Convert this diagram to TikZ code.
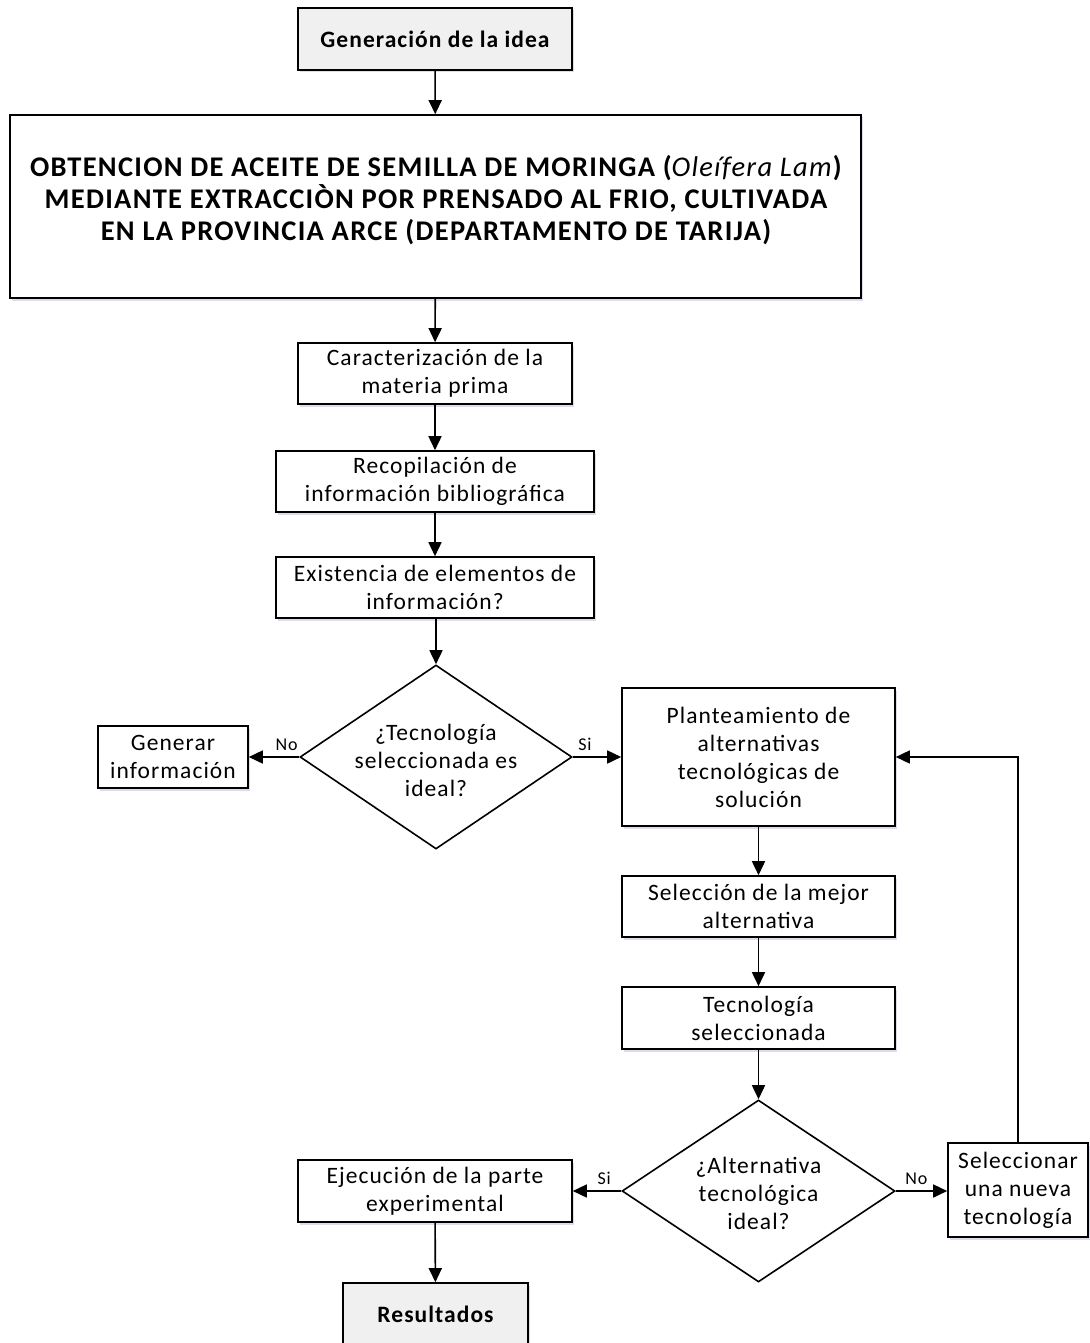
\documentclass[tikz,border=0pt]{standalone}
\usepackage{fontspec}
\setmainfont{Carlito}[LetterSpace=4.5]
\usetikzlibrary{shapes.geometric,arrows.meta,shadows}

\tikzset{
  soft shadow/.style={drop shadow={shadow xshift=1.5pt, shadow yshift=-2.5pt,
      fill=blue!25!gray, opacity=0.22}},
  box/.style={draw=black, line width=1.6pt, fill=white, inner sep=2pt, align=center,
    soft shadow, font=\fontsize{23.5}{28}\selectfont},
  keybox/.style={box, fill=gray!12, font=\fontsize{23.5}{28}\selectfont\bfseries},
  decision/.style={draw=black, line width=1.6pt, shape=diamond, inner sep=0pt, fill=white},
  dtext/.style={align=center, font=\fontsize{23.5}{28}\selectfont},
  tag/.style={font=\fontsize{18}{20}\selectfont, inner sep=1pt},
  flow/.style={line width=1.6pt, -{Triangle[length=14pt,width=13pt]}},
}

\begin{document}
\begin{tikzpicture}[x=1pt,y=-1pt]
\useasboundingbox (0,0) rectangle (1089,1343);

% boxes of the main column
\node[keybox, minimum width=274pt, minimum height=62pt] (idea) at (435,39) {Generación de la idea};
\node[box, minimum width=851pt, minimum height=183pt] (tema) at (435.5,206.5) {};
\node[align=center, font=\fontsize{28.5}{32}\selectfont\bfseries] (temat) at (436,200)
  {OBTENCION DE ACEITE DE SEMILLA DE MORINGA (\textit{\mdseries Oleífera Lam})\\
   MEDIANTE EXTRACCIÒN POR PRENSADO AL FRIO, CULTIVADA\\
   EN LA PROVINCIA ARCE (DEPARTAMENTO DE TARIJA)};
\node[box, minimum width=274pt, minimum height=61pt] (carac) at (435,373.5)
  {Caracterización de la\\materia prima};
\node[box, minimum width=318pt, minimum height=61pt] (recop) at (435,481.5)
  {Recopilación de\\información bibliográfica};
\node[box, minimum width=318pt, minimum height=61pt] (exist) at (435,587.5)
  {Existencia de elementos de\\información?};

% first decision
\node[decision, minimum width=272pt, minimum height=184pt] (dec1) at (436,757) {};
\node[dtext] (dec1t) at (436,760) {¿Tecnología\\seleccionada es\\ideal?};
\node[box, minimum width=150pt, minimum height=62pt] (generar) at (173,757)
  {Generar\\información};

% right column
\node[box, minimum width=273pt, minimum height=138pt] (plan) at (758.5,757)
  {Planteamiento de\\alternativas\\tecnológicas de\\solución};
\node[box, minimum width=273pt, minimum height=61pt] (selec) at (758.5,906.5)
  {Selección de la mejor\\alternativa};
\node[box, minimum width=273pt, minimum height=62pt] (tecsel) at (758.5,1018)
  {Tecnología\\seleccionada};

% second decision
\node[decision, minimum width=273pt, minimum height=182pt] (dec2) at (758.5,1191) {};
\node[dtext] (dec2t) at (758.5,1193) {¿Alternativa\\tecnológica\\ideal?};
\node[box, minimum width=274pt, minimum height=62pt] (ejec) at (435,1191)
  {Ejecución de la parte\\experimental};
\node[box, minimum width=140pt, minimum height=94pt] (nueva) at (1018,1190)
  {Seleccionar\\una nueva\\tecnología};
\node[keybox, minimum width=185pt, minimum height=62pt] (result) at (435.5,1314)
  {Resultados};

% connectors
\draw[flow] (idea) -- (tema);
\draw[flow] (tema) -- (carac);
\draw[flow] (carac) -- (recop);
\draw[flow] (recop) -- (exist);
\draw[flow] (exist.south -| dec1.north) -- (dec1.north);
\draw[flow] (dec1.west) -- node[tag, above=5pt, pos=0.25] (no1) {No} (generar.east);
\draw[flow] (dec1.east) -- node[tag, above=5pt, pos=0.25] (si1) {Si} (plan.west);
\draw[flow] (plan) -- (selec);
\draw[flow] (selec) -- (tecsel);
\draw[flow] (tecsel.south -| dec2.north) -- (dec2.north);
\draw[flow] (dec2.west) -- node[tag, above=5pt, pos=0.35] (si2) {Si} (dec2.west -| ejec.east);
\draw[flow] (dec2.east) -- node[tag, above=5pt, pos=0.4] (no2) {No} (dec2.east -| nueva.west);
\draw[flow] (ejec) -- (result);
\draw[flow] (nueva.north) |- (plan.east);
\end{tikzpicture}
\end{document}
